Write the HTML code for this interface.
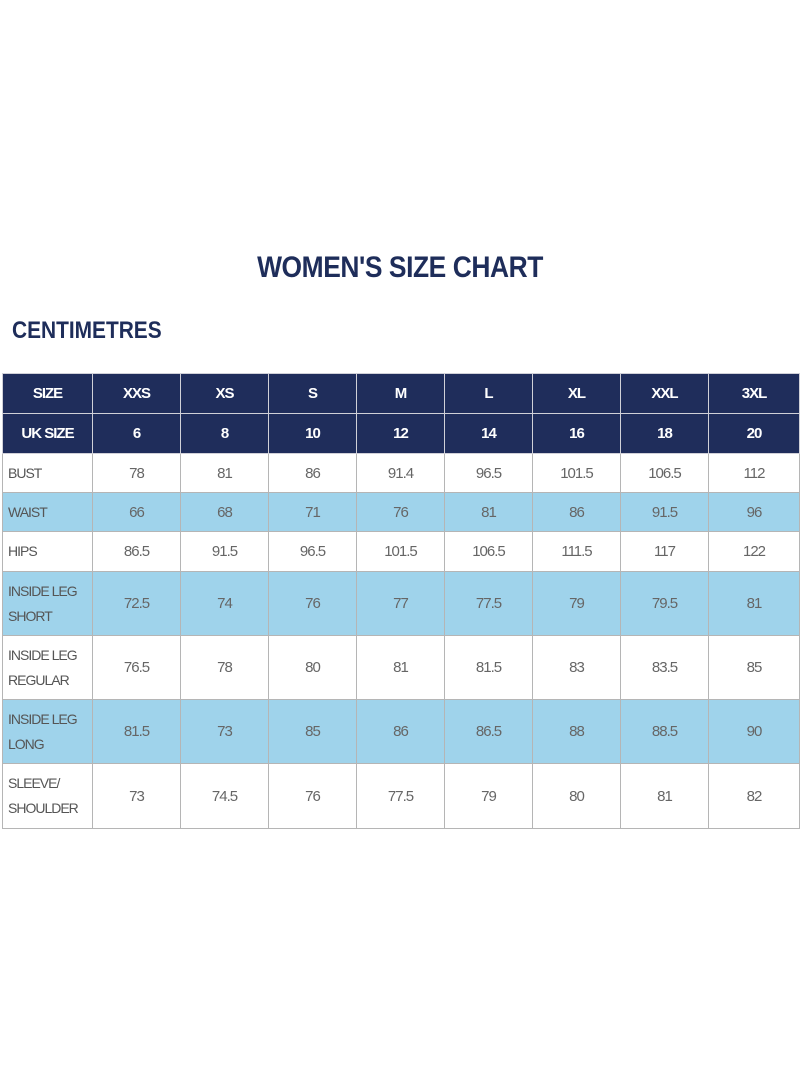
<!DOCTYPE html>
<html><head><style>
body{margin:0;width:800px;height:1070px;background:#fff;font-family:"Liberation Sans",sans-serif;position:relative;overflow:hidden}
h1{position:absolute;top:251px;left:0;width:800px;text-align:center;margin:0;font-size:30px;color:#1e2d5a;font-weight:bold;letter-spacing:-0.5px;transform:scaleX(0.88)}
h2{position:absolute;top:317px;left:12px;margin:0;font-size:24px;color:#1e2d5a;font-weight:bold;transform:scaleX(0.87);transform-origin:left}
table{position:absolute;top:373px;left:2px;border-collapse:collapse;table-layout:fixed;width:797px}
td{border:1px solid #b5b5b5;text-align:center;color:#666;font-size:15px;padding:0;letter-spacing:-1px}
td:first-child{text-align:left;padding-left:5px;color:#555;line-height:25px;font-size:14px}
tr.h td{background:#1f2d5b;color:#fff;font-weight:bold;border-color:#d0d0d8;font-size:15px}
tr.h td:first-child{text-align:center;padding-left:0}
tr.b td{background:#9fd3eb}
</style></head><body>
<h1>WOMEN'S SIZE CHART</h1>
<h2>CENTIMETRES</h2>
<table>
<colgroup><col style="width:90px"><col style="width:88px"><col style="width:88px"><col style="width:88px"><col style="width:88px"><col style="width:88px"><col style="width:88px"><col style="width:88px"><col style="width:91px"></colgroup>
<tr class="h" style="height:40px"><td>SIZE</td><td>XXS</td><td>XS</td><td>S</td><td>M</td><td>L</td><td>XL</td><td>XXL</td><td>3XL</td></tr>
<tr class="h" style="height:40px"><td>UK SIZE</td><td>6</td><td>8</td><td>10</td><td>12</td><td>14</td><td>16</td><td>18</td><td>20</td></tr>
<tr style="height:39px"><td>BUST</td><td>78</td><td>81</td><td>86</td><td>91.4</td><td>96.5</td><td>101.5</td><td>106.5</td><td>112</td></tr>
<tr class="b" style="height:39px"><td>WAIST</td><td>66</td><td>68</td><td>71</td><td>76</td><td>81</td><td>86</td><td>91.5</td><td>96</td></tr>
<tr style="height:40px"><td>HIPS</td><td>86.5</td><td>91.5</td><td>96.5</td><td>101.5</td><td>106.5</td><td>111.5</td><td>117</td><td>122</td></tr>
<tr class="b" style="height:64px"><td>INSIDE LEG<br>SHORT</td><td>72.5</td><td>74</td><td>76</td><td>77</td><td>77.5</td><td>79</td><td>79.5</td><td>81</td></tr>
<tr style="height:64px"><td>INSIDE LEG<br>REGULAR</td><td>76.5</td><td>78</td><td>80</td><td>81</td><td>81.5</td><td>83</td><td>83.5</td><td>85</td></tr>
<tr class="b" style="height:64px"><td>INSIDE LEG<br>LONG</td><td>81.5</td><td>73</td><td>85</td><td>86</td><td>86.5</td><td>88</td><td>88.5</td><td>90</td></tr>
<tr style="height:65px"><td>SLEEVE/<br>SHOULDER</td><td>73</td><td>74.5</td><td>76</td><td>77.5</td><td>79</td><td>80</td><td>81</td><td>82</td></tr>
</table>
</body></html>
